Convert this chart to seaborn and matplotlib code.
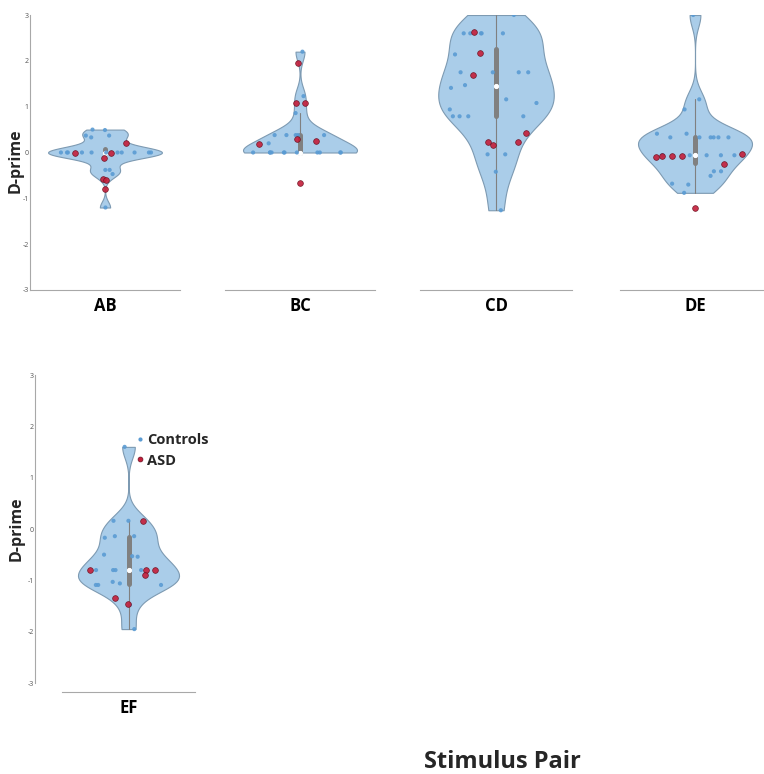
import numpy as np
import pandas as pd
import matplotlib
matplotlib.use("Agg")
import matplotlib.pyplot as plt
from matplotlib.lines import Line2D
import seaborn as sns

# ---- data: D-prime per stimulus pair, split by group ----
pairs = ["AB", "BC", "CD", "DE", "EF"]

controls_ab = [0.5, 0.49, 0.37, 0.37, 0.33, 0, 0, 0, 0, 0, 0, 0, 0, 0, 0, 0,
               -0.38, -0.38, -0.47, -1.2]
asd_ab = [0.21, 0, 0, -0.13, -0.58, -0.6, -0.8]

controls_bc = [2.2, 1.23, 0.86, 0.38, 0.38, 0.38, 0.38, 0.38, 0.2,
               0, 0, 0, 0, 0, 0, 0, 0, 0, 0, 0]
asd_bc = [1.96, 1.07, 1.07, 0.29, 0.25, 0.18, -0.67]

controls_cd = [3.0, 2.6, 2.6, 2.6, 2.6, 2.6, 2.14, 1.75, 1.75, 1.75, 1.75,
               1.47, 1.41, 1.16, 1.08, 0.94, 0.79, 0.79, 0.79, 0.79,
               -0.04, -0.04, -0.42, -1.26]
asd_cd = [2.63, 2.18, 1.68, 0.42, 0.22, 0.22, 0.16]

controls_de = [3.0, 1.16, 0.94, 0.41, 0.41, 0.33, 0.33, 0.33, 0.33, 0.33, 0.33,
               -0.06, -0.06, -0.06, -0.06, -0.06, -0.06,
               -0.41, -0.41, -0.51, -0.68, -0.7, -0.88]
asd_de = [-0.04, -0.07, -0.08, -0.08, -0.1, -0.24, -1.21]

controls_ef = [1.6, 0.16, 0.16, -0.14, -0.14, -0.17, -0.5, -0.53, -0.54,
               -0.8, -0.8, -0.8, -0.8, -1.03, -1.06, -1.09, -1.09, -1.09,
               -1.48, -1.95]
asd_ef = [0.16, -0.8, -0.8, -0.8, -0.9, -1.35, -1.46]

controls = [controls_ab, controls_bc, controls_cd, controls_de, controls_ef]
asd = [asd_ab, asd_bc, asd_cd, asd_de, asd_ef]

rows = []
for p, c, a in zip(pairs, controls, asd):
    rows += [(p, "Controls", v) for v in c]
    rows += [(p, "ASD", v) for v in a]
df = pd.DataFrame(rows, columns=["pair", "group", "dprime"])

# ---- styling ----
sns.set_style("white")
plt.rcParams["font.family"] = ["Open Sans", "DejaVu Sans"]
plt.rcParams["axes.unicode_minus"] = False

FILL = "#aacde9"
EDGE = "#7d9ab2"
CTRL = "#5a9bd3"
ASDC = "#c41e3a"
AXC = "#a8a8a8"
VIOLIN_WIDTH = 0.76

# kernel bandwidth (in d' units) for each violin
bandwidths = {"AB": 0.13, "BC": 0.2, "CD": 0.45, "DE": 0.26, "EF": 0.22}

W, H = 764, 774
PT = 72 / 100  # points per pixel at 100 dpi
fig = plt.figure(figsize=(W / 100, H / 100), dpi=100)


def box(x0, y_top, x1, y_bot):
    return [x0 / W, 1 - y_bot / H, (x1 - x0) / W, (y_bot - y_top) / H]


panel_rects = {
    "AB": box(30, 15, 180, 290),
    "BC": box(225, 15, 375, 290),
    "CD": box(420, 15, 572, 290),
    "DE": box(620, 15, 770, 290),
    "EF": box(62, 375, 195, 683),
}


def half_width(ref_vals, y, bw):
    """Violin half-width at heights y (density scaled like the violin)."""
    ref_vals = np.asarray(ref_vals, float)
    grid = np.linspace(ref_vals.min(), ref_vals.max(), 400)
    dens = lambda t: np.exp(-0.5 * ((np.atleast_1d(t)[:, None] - ref_vals) / bw) ** 2).sum(1)
    peak = dens(grid).max()
    y = np.asarray(y, float)
    inside = (y >= ref_vals.min()) & (y <= ref_vals.max())
    return np.where(inside, dens(y) / peak, 0.0) * VIOLIN_WIDTH / 2


rng = np.random.default_rng(11)
for p in pairs:
    ax = fig.add_axes(panel_rects[p])
    sub = df[df["pair"] == p]
    ctrl = sub[sub["group"] == "Controls"]
    pat = sub[sub["group"] == "ASD"]
    bw_abs = bandwidths[p]
    bw = bw_abs / np.std(ctrl["dprime"], ddof=1)

    sns.violinplot(data=ctrl, x="pair", y="dprime", ax=ax, cut=0,
                   width=VIOLIN_WIDTH, bw_method=bw, color=FILL, saturation=1,
                   linecolor=EDGE, linewidth=0.8, inner="box",
                   inner_kws=dict(box_width=3.6, whis_width=0.8, marker="o",
                                  color="#808080"))

    # scatter points jittered within the violin outline
    for grp, col, s, ec, lw, z in [(ctrl, CTRL, 9, "none", 0, 4),
                                   (pat, ASDC, 17, "#6a0f20", 0.5, 5)]:
        yv = grp["dprime"].to_numpy()
        xj = rng.uniform(-0.9, 0.9, len(yv)) * half_width(ctrl["dprime"], yv, bw_abs)
        sns.scatterplot(x=xj, y=yv, ax=ax, color=col, s=s, edgecolor=ec,
                        linewidth=lw, alpha=0.9, zorder=z, legend=False)

    ax.set_ylim(-3, 3)
    ax.set_xlim(-0.5, 0.5)
    ax.set_xticks([0])
    ax.set_xticklabels([p])
    ax.set_xlabel("")
    for s in ["top", "right"]:
        ax.spines[s].set_visible(False)
    for s in ["left", "bottom"]:
        ax.spines[s].set_color(AXC)
        ax.spines[s].set_linewidth(0.8)

    if p == "EF":
        ax.spines["left"].set_position(("outward", 27 * PT))
        ax.spines["bottom"].set_position(("outward", 9 * PT))

    ax.tick_params(axis="x", direction="in", length=2, width=0.6, color=AXC,
                   labelsize=12, labelcolor="black", pad=5)
    for lab in ax.get_xticklabels():
        lab.set_fontweight("bold")

    if p in ("AB", "EF"):
        ax.set_yticks(range(-3, 4))
        ax.tick_params(axis="y", direction="in", length=2, width=0.6,
                       color=AXC, labelsize=5, labelcolor="#555555", pad=1)
        ax.set_ylabel("D-prime", fontsize=11.5, fontweight="bold")
        if p == "AB":
            ax.yaxis.set_label_coords((24 - 30) / 150, 0.47)
        else:
            ax.yaxis.set_label_coords((25 - 62) / 133, 0.5)
    else:
        ax.spines["left"].set_visible(False)
        ax.set_yticks([])
        ax.set_ylabel("")

    if p == "EF":
        handles = [
            Line2D([], [], marker="o", ls="", color=CTRL, markersize=3,
                   markeredgewidth=0),
            Line2D([], [], marker="o", ls="", color=ASDC, markersize=3.5,
                   markeredgecolor="#6a0f20", markeredgewidth=0.5),
        ]
        ax.legend(handles, ["Controls", "ASD"], loc="upper left",
                  bbox_to_anchor=(137 / W, 1 - 433 / H),
                  bbox_transform=fig.transFigure, frameon=False,
                  handlelength=0.4, handletextpad=0.3, labelspacing=0.45,
                  borderpad=0, borderaxespad=0,
                  prop=dict(weight="bold", size=10.5))

fig.text(502 / W, 1 - 762 / H, "Stimulus Pair", ha="center", va="center",
         fontsize=17, fontweight="bold")

fig.savefig("out.png", dpi=100)
